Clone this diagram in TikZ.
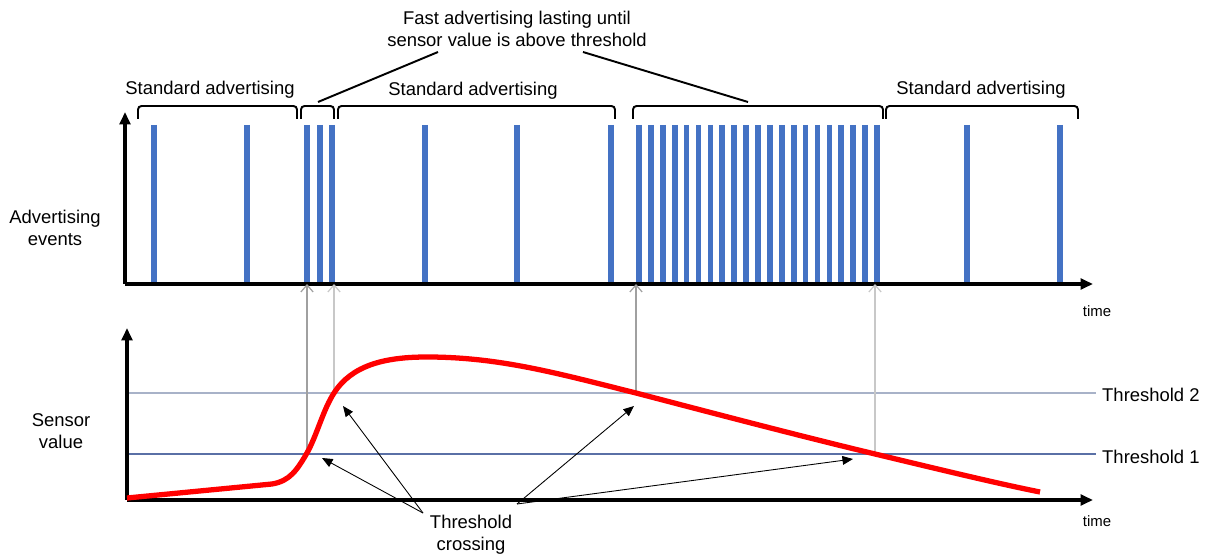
\documentclass[tikz,border=0pt]{standalone}
\usepackage{fontspec}
\setmainfont{Liberation Sans}
\usetikzlibrary{arrows.meta}
\definecolor{bleubarre}{HTML}{4472C4}
\definecolor{seuilclair}{HTML}{A8B2C8}
\definecolor{seuilfonce}{HTML}{5A70A6}
\definecolor{gristrait}{HTML}{A0A0A0}
\definecolor{grisclair}{HTML}{C8C8C8}

\begin{document}
\begin{tikzpicture}[x=0.02cm,y=-0.02cm]
  \tikzstyle{axe}=[-{Triangle[length=7pt,width=6pt]},line width=2.2pt]
\tikzset{barre/.style={line width=3.2pt,bleubarre},
accolade/.style={line width=1.1pt,rounded corners=2pt},
texte/.style={font=\fontsize{10.5}{12.6}\selectfont,align=center},
petit/.style={font=\fontsize{8.5}{10}\selectfont},
seuil/.style={line width=1pt,#1},
repere/.style={-{Straight Barb[length=4pt,width=7pt]},line width=0.7pt,#1},
fleche/.style={-{Triangle[length=6pt,width=5pt]},line width=0.5pt},
courbe/.style={line width=3pt,red,line join=round}}
\useasboundingbox (0,0) rectangle (1207,557);

\coordinate (O1) at (125,284);
\coordinate (O2) at (127,500);

% evenements
\foreach \x in {154,247,307,320,332,425,517,611,967,1060}
  \draw[barre] (\x,125) -- (\x,284);
\foreach \i in {0,...,20}
  \draw[barre] ({639+11.9*\i},125) -- ({639+11.9*\i},284);

\draw[axe] (O1) -- (125,112);
\draw[axe] (O1) -- (1093,284);

% accolades
\draw[accolade] (138,119) -- (138,106) -- (297,106) -- (297,119);
\draw[accolade] (301,119) -- (301,106) -- (334,106) -- (334,119);
\draw[accolade] (338,119) -- (338,106) -- (615,106) -- (615,119);
\draw[accolade] (633,119) -- (633,106) -- (883,106) -- (883,119);
\draw[accolade] (886,119) -- (886,106) -- (1078,106) -- (1078,119);

\node[texte] (std1) at (210,90){Standard advertising};
\node[texte] (std2) at (473,91){Standard advertising};
\node[texte] (std3) at (981,90){Standard advertising};
\node[texte] (rapide) at (517,29){Fast advertising lasting until\\sensor value is above threshold};
\coordinate (rg) at (438,52);
\coordinate (rd) at (583,52);
\coordinate (acc2) at (318,102);
\coordinate (acc4) at (748,102);
\draw[line width=1.1pt] (rg) -- (acc2);
\draw[line width=1.1pt] (rd) -- (acc4);

\node[texte] (pub) at (55,228){Advertising\\events};
\node[texte] (capteur) at (61,431){Sensor\\value};
\node[petit] (temps1) at (1097,311){time};
\node[petit] (temps2) at (1097,521){time};

% seuils
\node[texte,anchor=west] (seuil2) at (1096,395){Threshold 2};
\node[texte,anchor=west] (seuil1) at (1096,457){Threshold 1};
\draw[seuil=seuilclair] (127,393) -- (seuil2.west |- 0,393);
\draw[seuil=seuilfonce] (127,454) -- (seuil1.west |- 0,454);

% franchissements
\coordinate (c1) at (307,453);
\coordinate (c2) at (334,393);
\coordinate (c3) at (636,393);
\coordinate (c4) at (875,454);
\draw[repere=gristrait] (c1) -- (c1 |- O1);
\draw[repere=grisclair] (c2) -- (c2 |- O1);
\draw[repere=gristrait] (c3) -- (c3 |- O1);
\draw[repere=grisclair] (c4) -- (c4 |- O1);

\draw[axe] (O2) -- (127,328);
\draw[axe] (O2) -- (1093,500);

\draw[courbe] (127,498) -- (272,484) .. controls (290,481) and (297,470) .. (c1)
  .. controls (317,435) and (323,410) .. (c2)
  .. controls (352,365) and (385,357) .. (427,357)
  .. controls (500,357) and (560,374) .. (c3)
  .. controls (720,415) and (800,436) .. (c4)
  .. controls (950,472) and (1000,484) .. (1040,492);

\node[texte] (croisement) at (471,535){Threshold\\crossing};
\coordinate (dg) at (423,513);
\coordinate (dd) at (517,504);
\coordinate (f1) at (322,458);
\coordinate (f2) at (343,406);
\coordinate (f3) at (634,406);
\coordinate (f4) at (853,459);
\draw[fleche] (dg) -- (f1);
\draw[fleche] (dg) -- (f2);
\draw[fleche] (dd) -- (f3);
\draw[fleche] (dd) -- (f4);

  \end{tikzpicture}
\end{document}
